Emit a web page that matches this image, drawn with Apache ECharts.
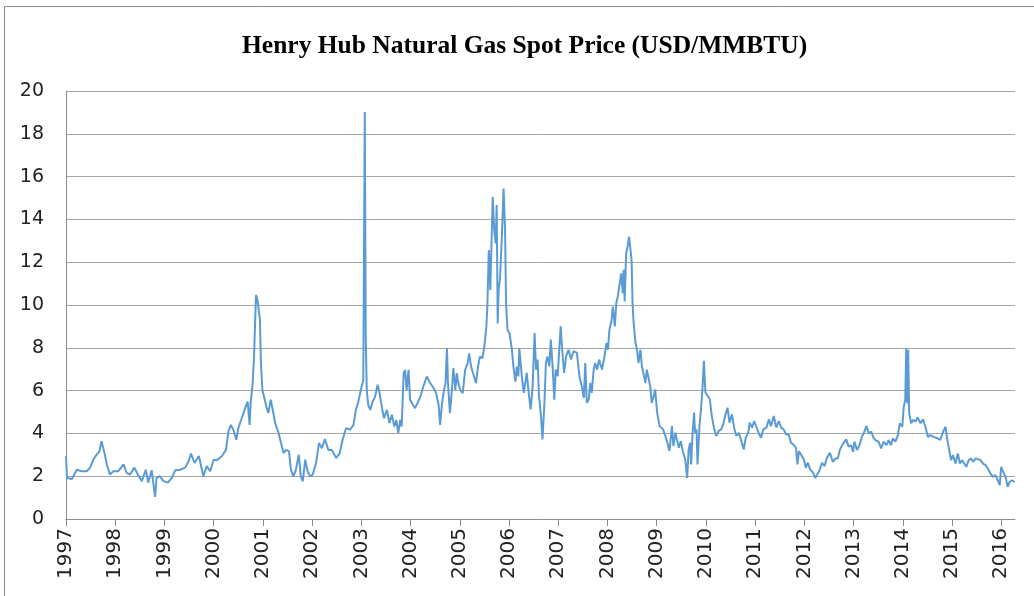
<!DOCTYPE html>
<html>
<head>
<meta charset="utf-8">
<title>Henry Hub Natural Gas Spot Price</title>
<script src="https://cdn.jsdelivr.net/npm/echarts@6/dist/echarts.min.js"></script>
<style>
  html, body { margin: 0; padding: 0; background: #fff; }
  #chart { width: 1034px; height: 596px; }
</style>
</head>
<body>
<div id="chart"></div>
<script>
// tick labels on the time axis
const yearTicks = [1997, 1998, 1999, 2000, 2001, 2002, 2003, 2004, 2005, 2006,
  2007, 2008, 2009, 2010, 2011, 2012, 2013, 2014, 2015, 2016]

// position along the time axis (decimal years)
const dates = [
  1997.00, 1997.02, 1997.12, 1997.22, 1997.32, 1997.42, 1997.49, 1997.56, 1997.62, 1997.68,
  1997.72, 1997.78, 1997.83, 1997.89, 1997.96, 1998.06, 1998.17, 1998.23, 1998.30, 1998.39,
  1998.46, 1998.54, 1998.62, 1998.67, 1998.74, 1998.81, 1998.84, 1998.91, 1998.98, 1999.07,
  1999.15, 1999.22, 1999.32, 1999.42, 1999.49, 1999.54, 1999.61, 1999.70, 1999.79, 1999.86,
  1999.93,
  2000.00, 2000.06, 2000.16, 2000.25, 2000.30, 2000.35, 2000.40, 2000.46, 2000.50, 2000.57,
  2000.64, 2000.69, 2000.73, 2000.75, 2000.79, 2000.82, 2000.86, 2000.89, 2000.92, 2000.94,
  2000.96, 2000.99, 2001.03, 2001.07, 2001.11, 2001.16, 2001.20, 2001.25, 2001.32, 2001.36,
  2001.42, 2001.47, 2001.53, 2001.57, 2001.62, 2001.67, 2001.73, 2001.77, 2001.81, 2001.86,
  2001.91, 2001.96, 2002.01, 2002.08, 2002.14, 2002.20, 2002.26, 2002.33, 2002.40, 2002.49,
  2002.56, 2002.62, 2002.69, 2002.77, 2002.84, 2002.89, 2002.94, 2002.99,
  2003.04, 2003.07, 2003.09, 2003.11, 2003.14, 2003.18, 2003.23, 2003.28, 2003.33, 2003.37,
  2003.42, 2003.46, 2003.52, 2003.57, 2003.62, 2003.67, 2003.71, 2003.75, 2003.79, 2003.82,
  2003.86, 2003.89, 2003.92, 2003.96, 2003.99, 2004.05, 2004.09, 2004.14, 2004.20, 2004.26,
  2004.33, 2004.40, 2004.47, 2004.52, 2004.57, 2004.60, 2004.64, 2004.68, 2004.71, 2004.74,
  2004.76, 2004.80, 2004.84, 2004.87, 2004.91, 2004.94, 2004.97, 2005.01, 2005.06, 2005.11,
  2005.16, 2005.19, 2005.23, 2005.28, 2005.33, 2005.37, 2005.41, 2005.46, 2005.50, 2005.54,
  2005.56, 2005.59, 2005.62, 2005.65, 2005.67, 2005.70, 2005.73, 2005.75, 2005.77, 2005.79,
  2005.82, 2005.86, 2005.89, 2005.92, 2005.94, 2005.97, 2006.01, 2006.06, 2006.09, 2006.13,
  2006.16, 2006.19, 2006.21,
  2006.26, 2006.30, 2006.33, 2006.36, 2006.40, 2006.44, 2006.48, 2006.52, 2006.55, 2006.58,
  2006.61, 2006.65, 2006.68, 2006.72, 2006.75, 2006.78, 2006.82, 2006.85, 2006.89, 2006.92,
  2006.95, 2006.99, 2007.02, 2007.05, 2007.08, 2007.12, 2007.16, 2007.21, 2007.26, 2007.31,
  2007.38, 2007.43, 2007.48, 2007.52, 2007.55, 2007.58, 2007.62, 2007.65, 2007.68, 2007.72,
  2007.75, 2007.79, 2007.83, 2007.89, 2007.94, 2007.98, 2008.01, 2008.04, 2008.08, 2008.11,
  2008.15, 2008.18, 2008.21, 2008.25, 2008.28, 2008.31, 2008.33, 2008.35, 2008.38, 2008.41,
  2008.44, 2008.46, 2008.49, 2008.51, 2008.53, 2008.57, 2008.60, 2008.63, 2008.67, 2008.70,
  2008.73, 2008.77, 2008.80, 2008.84, 2008.87, 2008.90, 2008.94, 2008.97, 2009.01, 2009.06,
  2009.13, 2009.20, 2009.26,
  2009.31, 2009.34, 2009.38, 2009.41, 2009.45, 2009.49, 2009.53, 2009.58, 2009.62, 2009.65,
  2009.68, 2009.70, 2009.73, 2009.76, 2009.78, 2009.81, 2009.83, 2009.87, 2009.90, 2009.93,
  2009.96, 2009.99, 2010.04, 2010.08, 2010.12, 2010.17, 2010.21, 2010.26, 2010.31, 2010.35,
  2010.39, 2010.44, 2010.48, 2010.53, 2010.58, 2010.62, 2010.67, 2010.71, 2010.77, 2010.81,
  2010.86, 2010.89, 2010.94, 2010.98, 2011.02, 2011.07, 2011.12, 2011.17, 2011.23, 2011.28,
  2011.32, 2011.38, 2011.43, 2011.48, 2011.53, 2011.58, 2011.63, 2011.68, 2011.73, 2011.78,
  2011.83, 2011.86, 2011.89, 2011.93, 2011.99, 2012.03, 2012.07, 2012.12, 2012.18, 2012.22,
  2012.26, 2012.30, 2012.36, 2012.41, 2012.46, 2012.52,
  2012.53, 2012.58, 2012.63, 2012.68, 2012.72, 2012.77, 2012.81, 2012.85, 2012.90, 2012.95,
  2012.99, 2013.02, 2013.07, 2013.12, 2013.17, 2013.22, 2013.26, 2013.31, 2013.36, 2013.41,
  2013.46, 2013.51, 2013.56, 2013.61, 2013.67, 2013.71, 2013.76, 2013.80, 2013.85, 2013.90,
  2013.94, 2013.99, 2014.02, 2014.05, 2014.07, 2014.09, 2014.11, 2014.13, 2014.17, 2014.21,
  2014.26, 2014.30, 2014.36, 2014.41, 2014.46, 2014.51, 2014.56, 2014.62, 2014.66, 2014.71,
  2014.76, 2014.82, 2014.87, 2014.90, 2014.95, 2014.98, 2015.02, 2015.07, 2015.12, 2015.16,
  2015.20, 2015.25, 2015.29, 2015.34, 2015.39, 2015.43, 2015.48, 2015.52, 2015.58, 2015.63,
  2015.68, 2015.73, 2015.78, 2015.83, 2015.88, 2015.93, 2015.97, 2016.00, 2016.04, 2016.09,
  2016.13, 2016.17, 2016.22, 2016.27
]

// spot price, USD/MMBTU
const prices = [
  2.94, 1.92, 1.87, 2.30, 2.23, 2.23, 2.40, 2.80, 3.00, 3.17,
  3.64, 3.10, 2.55, 2.08, 2.23, 2.23, 2.55, 2.16, 2.08, 2.40,
  2.08, 1.77, 2.30, 1.70, 2.28, 1.03, 1.92, 2.00, 1.77, 1.70,
  1.92, 2.28, 2.30, 2.40, 2.70, 3.06, 2.62, 2.94, 2.00, 2.47,
  2.23,
  2.77, 2.74, 2.92, 3.23, 4.09, 4.40, 4.17, 3.70, 4.25, 4.71,
  5.18, 5.49, 4.40, 5.41, 6.27, 7.59, 10.47, 10.23, 10.31, 9.30,
  7.28, 6.03, 5.65, 5.26, 4.95, 5.57, 5.10, 4.48, 4.01, 3.62,
  3.08, 3.23, 3.16, 2.30, 1.99, 2.30, 3.00, 1.99, 1.76, 2.77,
  2.22, 1.99, 2.07, 2.61, 3.55, 3.31, 3.73, 3.23, 3.23, 2.85,
  3.08, 3.70, 4.25, 4.17, 4.40, 5.10, 5.49, 6.03,
  6.50, 19.02, 8.52, 6.03, 5.33, 5.10, 5.49, 5.72, 6.27, 5.88,
  5.18, 4.71, 5.10, 4.48, 4.87, 4.32, 4.63, 4.01, 4.63, 4.32,
  6.81, 6.97, 6.03, 6.97, 5.57, 5.33, 5.18, 5.41, 5.72, 6.19,
  6.66, 6.35, 6.11, 5.88, 5.33, 4.40, 5.41, 6.03, 6.35, 7.98,
  6.35, 4.95, 6.03, 7.05, 6.03, 6.81, 6.35, 6.03, 5.88, 6.97,
  7.28, 7.74, 7.12, 6.73, 6.35, 7.12, 7.59, 7.51, 8.06, 8.99,
  9.92, 12.57, 10.70, 13.34, 15.05, 13.50, 12.88, 14.67, 9.14, 10.70,
  11.32, 13.50, 15.44, 13.50, 10.08, 8.83, 8.68, 7.90, 7.12, 6.42,
  7.12, 6.66, 7.98,
  6.67, 5.89, 6.36, 6.83, 5.89, 5.12, 6.20, 8.69, 6.98, 7.45,
  5.74, 4.81, 3.72, 5.43, 7.29, 7.60, 7.14, 8.38, 6.98, 5.58,
  6.98, 6.67, 7.91, 9.00, 7.91, 6.83, 7.60, 7.91, 7.45, 7.84,
  7.76, 6.67, 6.20, 5.66, 7.29, 5.43, 5.58, 6.36, 5.89, 6.98,
  7.29, 6.98, 7.45, 6.98, 7.60, 8.22, 7.91, 8.84, 9.23, 9.93,
  9.00, 10.09, 10.40, 11.02, 11.48, 10.55, 11.64, 10.16, 12.42, 12.73,
  13.19, 13.27, 12.10, 10.09, 9.23, 8.22, 7.91, 7.29, 7.91, 7.14,
  6.83, 6.36, 6.98, 6.52, 6.20, 5.43, 5.74, 6.05, 4.96, 4.34,
  4.19, 3.72, 3.18,
  4.34, 3.41, 4.03, 3.72, 3.33, 3.64, 3.17, 2.78, 1.92, 3.25,
  3.56, 2.55, 4.03, 4.97, 4.03, 4.19, 2.55, 4.34, 5.13, 6.06,
  7.39, 5.91, 5.75, 5.59, 4.81, 4.19, 3.88, 4.11, 4.19, 4.42,
  4.81, 5.20, 4.50, 4.89, 4.19, 3.88, 4.03, 3.72, 3.25, 3.80,
  4.03, 4.50, 4.27, 4.58, 4.66, 4.03, 3.80, 4.19, 4.27, 4.66,
  4.34, 4.81, 4.27, 4.58, 4.27, 4.19, 3.95, 3.95, 3.56, 3.48,
  3.33, 2.55, 3.17, 3.02, 2.78, 2.39, 2.63, 2.31, 2.16, 1.92,
  1.84, 2.23, 2.63, 2.47, 2.86, 3.09,
  3.14, 2.67, 2.83, 2.83, 3.22, 3.45, 3.45, 3.72, 3.38, 3.45,
  3.14, 3.61, 3.22, 3.45, 3.84, 4.08, 4.34, 4.00, 4.08, 3.77,
  3.66, 3.61, 3.30, 3.61, 3.45, 3.69, 3.45, 3.77, 3.61, 3.92,
  4.47, 4.31, 5.25, 5.56, 7.98, 5.41, 7.91, 4.94, 4.47, 4.63,
  4.55, 4.75, 4.47, 4.66, 4.31, 3.84, 3.92, 3.84, 3.92, 3.77,
  3.69, 4.08, 4.31, 3.77, 3.14, 2.75, 2.98, 2.59, 3.06, 2.59,
  2.75, 2.59, 2.44, 2.75, 2.83, 2.67, 2.83, 2.83, 2.75, 2.59,
  2.52, 2.36, 2.13, 1.97, 2.05, 1.81, 1.58, 2.44, 2.20, 1.97,
  1.50, 1.73, 1.81, 1.73
]

const seriesData = dates.map((d, i) => [d, prices[i]])

const option = {
  backgroundColor: '#fff',
  animation: false,
  title: {
    text: 'Henry Hub Natural Gas Spot Price (USD/MMBTU)',
    left: 242,
    top: 31,
    padding: 0,
    textStyle: {
      fontFamily: 'Liberation Serif',
      fontWeight: 'bold',
      fontSize: 25.5,
      lineHeight: 30,
      color: '#000',
    },
  },
  // chart-area frame, runs off the right and bottom of the picture
  graphic: [{
    type: 'rect',
    silent: true,
    shape: { x: 4.5, y: 6.5, width: 1100, height: 700 },
    style: { fill: 'none', stroke: '#8a8a8a', lineWidth: 1 },
  }],
  grid: {
    left: 66,
    right: 19,
    top: 91,
    bottom: 77,
    containLabel: false,
  },
  xAxis: {
    type: 'value',
    min: 1997,
    max: 2016.28,
    axisLine: { show: true, lineStyle: { color: '#8c8c8c', width: 1 } },
    axisTick: {
      show: true,
      length: 7,
      customValues: yearTicks,
      lineStyle: { color: '#8c8c8c', width: 1 },
    },
    axisLabel: {
      customValues: yearTicks,
      rotate: 90,
      margin: 9,
      fontFamily: 'DejaVu Sans',
      fontSize: 20,
      color: '#222',
      formatter: (v) => String(Math.round(v)),
    },
    splitLine: { show: false },
  },
  yAxis: {
    type: 'value',
    min: 0,
    max: 20,
    interval: 2,
    axisLine: { show: true, lineStyle: { color: '#8c8c8c', width: 1 } },
    axisTick: { show: false },
    axisLabel: {
      margin: 22,
      fontFamily: 'DejaVu Sans',
      fontSize: 19,
      color: '#222',
    },
    splitLine: { show: true, lineStyle: { color: '#a6a6a6', width: 1 } },
  },
  series: [{
    type: 'line',
    data: seriesData,
    showSymbol: false,
    lineStyle: { color: '#5b9bd5', width: 2 },
    itemStyle: { color: '#5b9bd5' },
  }],
}

const myChart = echarts.init(document.getElementById('chart'))
myChart.setOption(option)
</script>
</body>
</html>
